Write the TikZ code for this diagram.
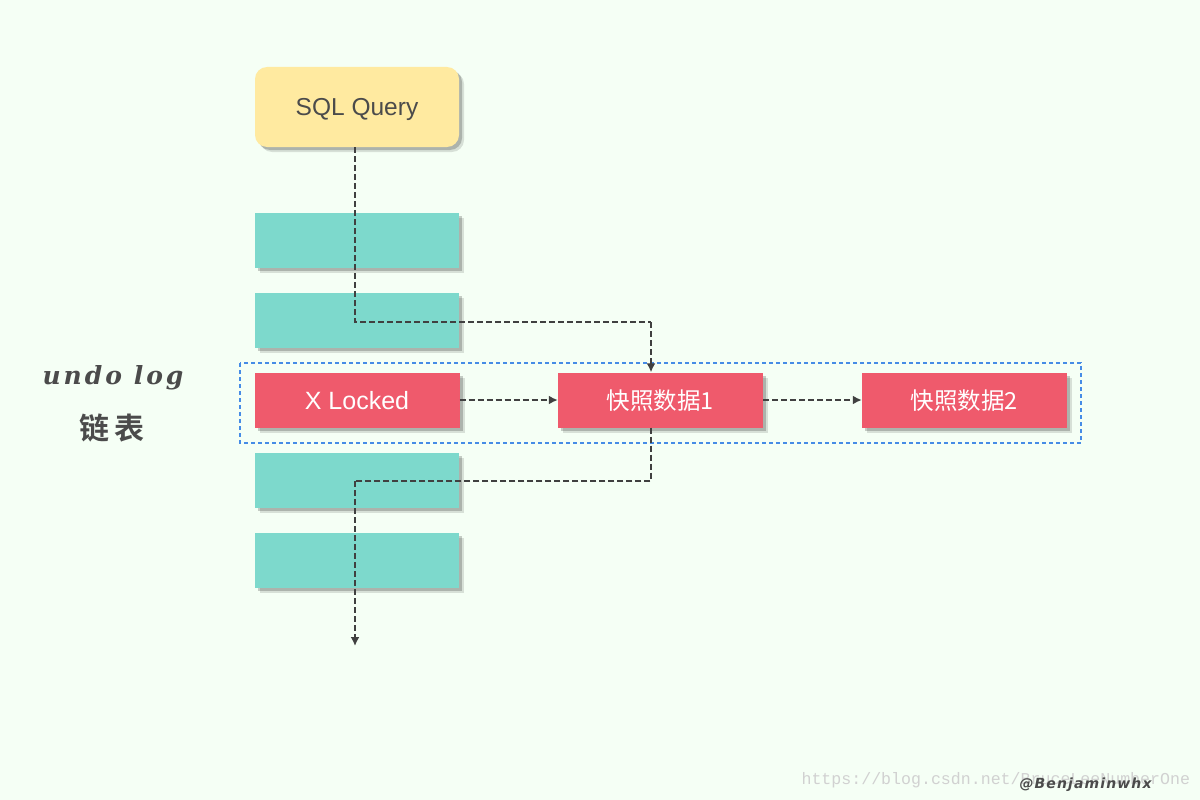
\documentclass[tikz,border=0pt]{standalone}
\usepackage{fontspec}
\setmainfont{Liberation Sans}
\newfontfamily\cjk{Noto Sans CJK SC}
\newfontfamily\cjkb{Noto Sans CJK SC Bold}
\newfontfamily\monof{Liberation Mono}
\newfontfamily\scriptf[LetterSpace=12]{DejaVu Serif}
\newfontfamily\authf[LetterSpace=8]{DejaVu Sans}
\usetikzlibrary{shadows,arrows.meta}
\definecolor{bgc}{RGB}{245,255,245}
\definecolor{sqlc}{RGB}{255,234,160}
\definecolor{tealc}{RGB}{125,217,204}
\definecolor{redc}{RGB}{239,90,108}
\definecolor{bluec}{RGB}{70,140,230}
\definecolor{txtc}{RGB}{75,75,75}
\definecolor{arrc}{RGB}{64,64,64}
\begin{document}
\begin{tikzpicture}[x=1pt,y=-1pt,
  shd/.style={drop shadow={shadow xshift=5pt,shadow yshift=-5pt,opacity=0.12,fill=black},
              drop shadow={shadow xshift=3pt,shadow yshift=-3pt,opacity=0.2,fill=black}},
  sqlbox/.style={shd,fill=sqlc,rounded corners=12pt,minimum width=204pt,minimum height=80pt,inner sep=0pt,text=txtc,font=\fontsize{24.5}{28}\selectfont},
  rowbox/.style={shd,fill=tealc,minimum width=204pt,minimum height=55pt,inner sep=0pt},
  redbox/.style={shd,fill=redc,minimum width=205pt,minimum height=55pt,inner sep=0pt,text=white,font=\fontsize{23.5}{26}\selectfont\cjk},
  lbl/.style={inner sep=0pt,text depth=0pt},
  conn/.style={draw=arrc,line width=2pt,dash pattern=on 6pt off 3pt,-{Latex[length=9pt,width=9pt]}},
  conn0/.style={draw=arrc,line width=2pt,dash pattern=on 6pt off 3pt}]
\fill[bgc] (0,0) rectangle (1200,800);
\useasboundingbox (0,0) rectangle (1200,800);
\node[sqlbox] (sql) at (357,107) {};
\node[lbl,text=txtc,font=\fontsize{24.5}{28}\selectfont] (sqlt) at (357,107) {SQL Query};
\node[rowbox] (r1) at (357,240) {};
\node[rowbox] (r2) at (357,320) {};
\node[rowbox] (r4) at (357,480) {};
\node[rowbox] (r5) at (357,560) {};
\draw[bluec,line width=1.5pt,dash pattern=on 4pt off 3pt] (240,363) rectangle (1081,443);
\node[redbox] (xl) at (357,400) {};
\node[redbox] (s1) at (660.5,400) {};
\node[redbox] (s2) at (964.5,400) {};
\node[lbl,text=white,font=\fontsize{25}{28}\selectfont] (xlt) at (xl) {X Locked};
\node[lbl,text=white,font=\fontsize{23.5}{26}\selectfont\cjk] (s1t) at (s1) {快照数据1};
\node[lbl,text=white,font=\fontsize{23.5}{26}\selectfont\cjk] (s2t) at (s2) {快照数据2};
\coordinate (c1) at (355,322);
\coordinate (c2) at (651,322);
\coordinate (c3) at (651,481);
\coordinate (c4) at (355,481);
\coordinate (cend) at (355,646);
\draw[conn0] (sql.south -| c1) -- (c1) -- (c2);
\draw[conn] (c2) -- (c2 |- s1.north);
\draw[conn] (xl.east) -- (s1.west);
\draw[conn] (s1.east) -- (s2.west);
\draw[conn0] (c3 |- s1.south) -- (c3) -- (c4);
\draw[conn] (c4) -- (cend);
\node[text=txtc,font=\fontsize{25}{28}\selectfont\scriptf\bfseries\itshape] (ul) at (113,378) {undo log};
\node[text=txtc,font=\fontsize{30}{34}\selectfont\cjkb] (lb) at (112,428) {链\,表};
\node[text=black!18,font=\fontsize{16.6}{20}\selectfont\monof,anchor=west] (wm) at (798,780) {https://blog.csdn.net/BruceLeeNumberOne};
\node[text=txtc,font=\fontsize{14}{18}\selectfont\authf\bfseries\itshape,anchor=west] (au) at (1016,785) {@Benjaminwhx};
\end{tikzpicture}
\end{document}
